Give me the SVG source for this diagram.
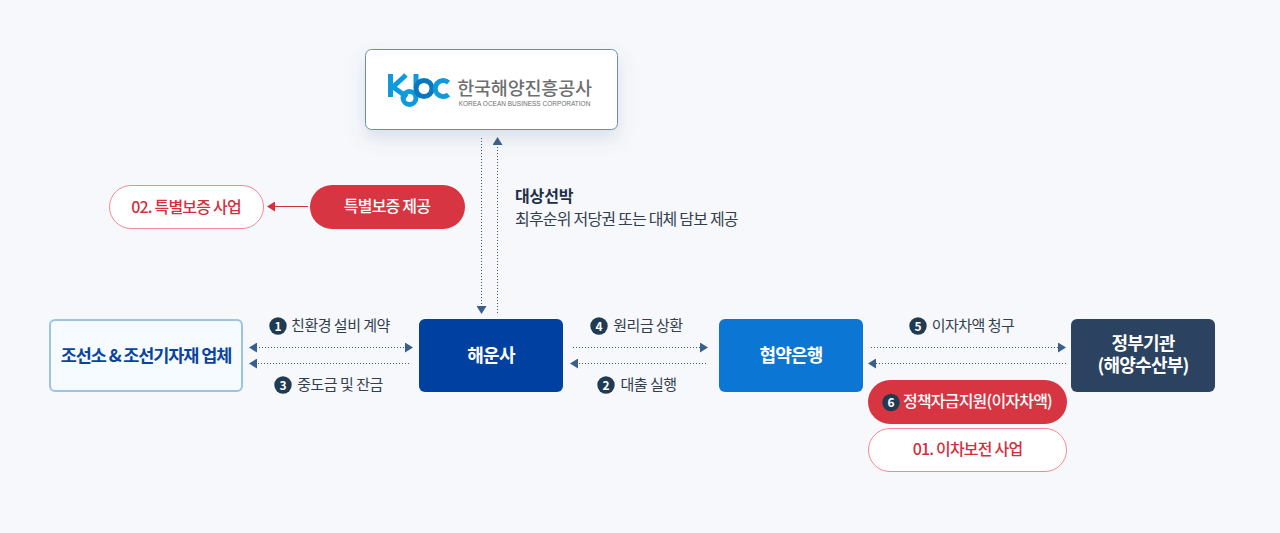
<svg xmlns="http://www.w3.org/2000/svg" width="1280" height="533" viewBox="0 0 1280 533">
<defs>
<style>
text{font-family:"Noto Sans CJK KR","Noto Sans",sans-serif;text-anchor:middle}
.lbl{font-size:15px;fill:#333e4c;letter-spacing:-.5px}
.node{font-size:18px;font-weight:700;fill:#fff;letter-spacing:-.8px}
.num{font-size:12px;font-weight:700;fill:#fff}
.dot{fill:#203a52}
.pill{font-size:16px;font-weight:500;letter-spacing:-.8px}
.c{fill:none;stroke:#3d5878;stroke-width:1;stroke-dasharray:1 2}
</style>
<marker id="a" viewBox="0 0 8 10" refX="7" refY="5" markerWidth="8" markerHeight="10" markerUnits="userSpaceOnUse" orient="auto-start-reverse"><path d="M0 0L8 5L0 10Z" fill="#3b5f8c"/></marker>
<marker id="r" viewBox="0 0 8 10" refX="7" refY="5" markerWidth="8" markerHeight="10" markerUnits="userSpaceOnUse" orient="auto-start-reverse"><path d="M0 0L8 5L0 10Z" fill="#d32f3d"/></marker>
<filter id="s" x="-20%" y="-30%" width="140%" height="170%"><feDropShadow dx="0" dy="8" stdDeviation="9" flood-color="#5a6c85" flood-opacity=".18"/></filter>
</defs>
<rect width="1280" height="533" fill="#f6f8fb"/>
<g id="connectors">
<path class="c" d="M481.500 138V313" marker-end="url(#a)"/>
<path class="c" d="M497.500 313V138" marker-end="url(#a)"/>
<path d="M308 206.500H268" fill="none" stroke="#d32f3d" marker-end="url(#r)"/>
<path class="c" d="M250 347.500H412" marker-start="url(#a)" marker-end="url(#a)"/>
<path class="c" d="M409 363.500H250" marker-end="url(#a)"/>
<path class="c" d="M573 347.500H707" marker-end="url(#a)"/>
<path class="c" d="M706 363.500H571" marker-end="url(#a)"/>
<path class="c" d="M871 347.500H1065" marker-end="url(#a)"/>
<path class="c" d="M1066 363.500H869" marker-end="url(#a)"/>
</g>
<g id="kobc">
<rect x="365.500" y="49.500" width="252" height="80" rx="6" fill="#fff" stroke="#6b8cb5" filter="url(#s)"/>
<g fill="none" stroke-width="5">
<path d="M390.500 74V97" stroke="#0f9bdb"/>
<path d="M406 75L393 87L407 97" stroke="#0f9bdb"/>
<circle cx="409.500" cy="98" r="6.500" stroke="#0f9bdb"/>
<path d="M416 74V88" stroke="#0f9bdb"/>
<circle cx="424" cy="88.500" r="8" stroke="#0a76c0"/>
<path d="M448.500 82.500A8 8 0 1 0 448.500 94.500" stroke="#0f9bdb"/>
</g>
<text x="524.500" y="95" font-size="18.500" font-weight="500" fill="#6e6f71" style="letter-spacing:-.2px">한국해양진흥공사</text>
<text x="524.500" y="106" font-size="6.500" fill="#6e6f71" style="font-family:'Liberation Sans',sans-serif">KOREA OCEAN BUSINESS CORPORATION</text>
</g>
<g id="desc">
<text x="515" y="202" font-size="16" font-weight="700" fill="#1d2f45" style="text-anchor:start;letter-spacing:-.1px">대상선박</text>
<text x="515" y="225" font-size="16" fill="#333e4c" style="text-anchor:start;letter-spacing:-.8px">최후순위 저당권 또는 대체 담보 제공</text>
</g>
<g id="biz2">
<rect x="109.500" y="185.500" width="154" height="43" rx="21.500" fill="#fff" stroke="#f38a92"/>
<text x="186" y="212.500" class="pill" fill="#d32f3d">02. 특별보증 사업</text>
</g>
<g id="guarantee">
<rect x="310" y="185" width="155" height="44" rx="22" fill="#d73541"/>
<text x="387" y="212" class="pill" fill="#fff">특별보증 제공</text>
</g>
<g id="shipyard">
<rect x="50" y="320" width="192" height="71" rx="5" fill="#f5fbff" stroke="#9cc3e3" stroke-width="2"/>
<text x="146" y="362" font-size="17.500" font-weight="700" fill="#0a44a0" style="letter-spacing:-1.100px">조선소 &amp; 조선기자재 업체</text>
</g>
<g id="shipping">
<rect x="419" y="319" width="144" height="73" rx="6" fill="#0040a0"/>
<text x="491" y="362" class="node">해운사</text>
</g>
<g id="bank">
<rect x="719" y="319" width="144" height="73" rx="6" fill="#0b76d4"/>
<text x="791" y="362" class="node">협약은행</text>
</g>
<g id="gov">
<rect x="1071" y="319" width="144" height="73" rx="6" fill="#2b4361"/>
<text class="node"><tspan x="1143" y="350">정부기관</tspan><tspan x="1143" y="372">(해양수산부)</tspan></text>
</g>
<g id="labels">
<circle class="dot" cx="278" cy="326" r="8.700"/><text x="278" y="330.500" class="num">1</text>
<text x="340.500" y="331" class="lbl">친환경 설비 계약</text>
<circle class="dot" cx="283" cy="385" r="8.700"/><text x="283" y="389.500" class="num">3</text>
<text x="340" y="390" class="lbl">중도금 및 잔금</text>
<circle class="dot" cx="599" cy="326" r="8.700"/><text x="599" y="330.500" class="num">4</text>
<text x="648" y="331" class="lbl">원리금 상환</text>
<circle class="dot" cx="606" cy="385" r="8.700"/><text x="606" y="389.500" class="num">2</text>
<text x="648.500" y="390" class="lbl">대출 실행</text>
<circle class="dot" cx="918" cy="326" r="8.700"/><text x="918" y="330.500" class="num">5</text>
<text x="973" y="331" class="lbl">이자차액 청구</text>
</g>
<g id="policy">
<rect x="868" y="380" width="199" height="44" rx="22" fill="#d73541"/>
<circle class="dot" cx="891" cy="402.500" r="8.700"/><text x="891" y="407" class="num">6</text>
<text x="977.500" y="407" class="pill" fill="#fff">정책자금지원(이자차액)</text>
</g>
<g id="biz1">
<rect x="868.500" y="428.500" width="198" height="43" rx="21.500" fill="#fff" stroke="#f38a92"/>
<text x="967.500" y="455" class="pill" fill="#d32f3d">01. 이차보전 사업</text>
</g>
</svg>
